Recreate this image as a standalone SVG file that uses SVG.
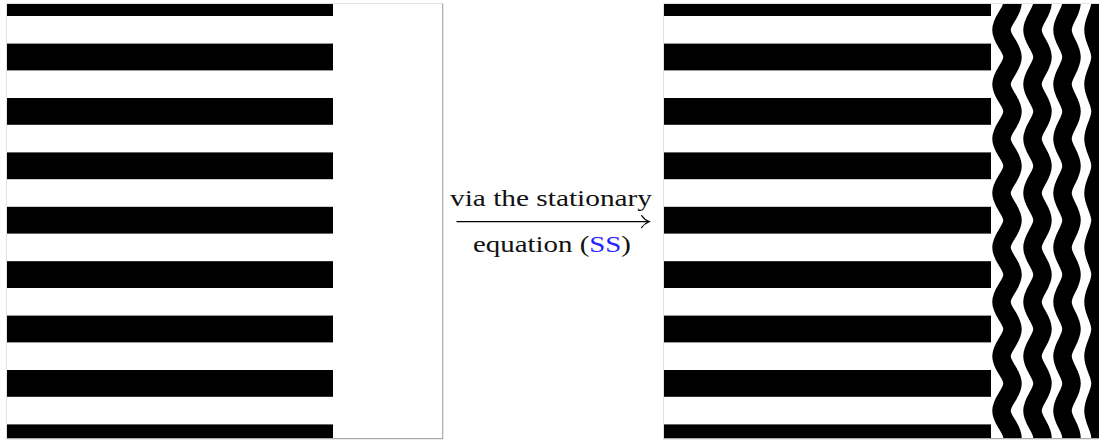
<svg xmlns="http://www.w3.org/2000/svg" width="1099" height="442" viewBox="0 0 1099 442">
<style>
.stripe{fill:#000}
.wave{fill:none;stroke:#000;stroke-width:18.5}
.lbl{font-family:"Liberation Serif","DejaVu Serif",serif;font-size:24px;fill:#111}
.blue{fill:#1f1fff}
.edge-light{stroke:#e2e2e2;stroke-width:1;fill:none}
.edge-dark{stroke:#ababab;stroke-width:1.2;fill:none}
</style>
<defs>
<clipPath id="clipL"><rect x="7" y="4" width="436" height="434"/></clipPath>
<clipPath id="clipR"><rect x="664" y="4" width="436" height="434"/></clipPath>
</defs>
<rect width="1099" height="442" fill="#fff"/>
<g id="left-panel">
<rect x="7" y="4" width="436" height="434" fill="#fff"/>
<g clip-path="url(#clipL)">
<rect class="stripe" x="7" y="-10.8" width="326" height="26.8"/>
<rect class="stripe" x="7" y="43.6" width="326" height="26.8"/>
<rect class="stripe" x="7" y="98" width="326" height="26.8"/>
<rect class="stripe" x="7" y="152.4" width="326" height="26.8"/>
<rect class="stripe" x="7" y="206.8" width="326" height="26.8"/>
<rect class="stripe" x="7" y="261.2" width="326" height="26.8"/>
<rect class="stripe" x="7" y="315.6" width="326" height="26.8"/>
<rect class="stripe" x="7" y="370" width="326" height="26.8"/>
<rect class="stripe" x="7" y="424.4" width="326" height="26.8"/>
</g>
<path class="edge-light" d="M6.5,438.5 V3.5 H442.5"/>
<path class="edge-dark" d="M442.7,3.5 V438.7 H6.5"/>
</g>
<g id="right-panel">
<rect x="664" y="4" width="436" height="434" fill="#fff"/>
<g clip-path="url(#clipR)">
<rect class="stripe" x="664" y="-10.8" width="327" height="26.8"/>
<rect class="stripe" x="664" y="43.6" width="327" height="26.8"/>
<rect class="stripe" x="664" y="98" width="327" height="26.8"/>
<rect class="stripe" x="664" y="152.4" width="327" height="26.8"/>
<rect class="stripe" x="664" y="206.8" width="327" height="26.8"/>
<rect class="stripe" x="664" y="261.2" width="327" height="26.8"/>
<rect class="stripe" x="664" y="315.6" width="327" height="26.8"/>
<rect class="stripe" x="664" y="370" width="327" height="26.8"/>
<rect class="stripe" x="664" y="424.4" width="327" height="26.8"/>
<path class="wave" d="M1001.5,-24.5 c0,9.9 11,17.3 11,27.2 s-11,17.3 -11,27.2 s11,17.3 11,27.2 s-11,17.3 -11,27.2 s11,17.3 11,27.2 s-11,17.3 -11,27.2 s11,17.3 11,27.2 s-11,17.3 -11,27.2 s11,17.3 11,27.2 s-11,17.3 -11,27.2 s11,17.3 11,27.2 s-11,17.3 -11,27.2 s11,17.3 11,27.2 s-11,17.3 -11,27.2 s11,17.3 11,27.2 s-11,17.3 -11,27.2 s11,17.3 11,27.2 s-11,17.3 -11,27.2"/>
<path class="wave" d="M1032.5,-24.5 c0,9.9 10,17.3 10,27.2 s-10,17.3 -10,27.2 s10,17.3 10,27.2 s-10,17.3 -10,27.2 s10,17.3 10,27.2 s-10,17.3 -10,27.2 s10,17.3 10,27.2 s-10,17.3 -10,27.2 s10,17.3 10,27.2 s-10,17.3 -10,27.2 s10,17.3 10,27.2 s-10,17.3 -10,27.2 s10,17.3 10,27.2 s-10,17.3 -10,27.2 s10,17.3 10,27.2 s-10,17.3 -10,27.2 s10,17.3 10,27.2 s-10,17.3 -10,27.2"/>
<path class="wave" d="M1062.5,-24.5 c0,9.9 9,17.3 9,27.2 s-9,17.3 -9,27.2 s9,17.3 9,27.2 s-9,17.3 -9,27.2 s9,17.3 9,27.2 s-9,17.3 -9,27.2 s9,17.3 9,27.2 s-9,17.3 -9,27.2 s9,17.3 9,27.2 s-9,17.3 -9,27.2 s9,17.3 9,27.2 s-9,17.3 -9,27.2 s9,17.3 9,27.2 s-9,17.3 -9,27.2 s9,17.3 9,27.2 s-9,17.3 -9,27.2 s9,17.3 9,27.2 s-9,17.3 -9,27.2"/>
<path class="wave" d="M1093.5,-24.5 c0,9.9 7,17.3 7,27.2 s-7,17.3 -7,27.2 s7,17.3 7,27.2 s-7,17.3 -7,27.2 s7,17.3 7,27.2 s-7,17.3 -7,27.2 s7,17.3 7,27.2 s-7,17.3 -7,27.2 s7,17.3 7,27.2 s-7,17.3 -7,27.2 s7,17.3 7,27.2 s-7,17.3 -7,27.2 s7,17.3 7,27.2 s-7,17.3 -7,27.2 s7,17.3 7,27.2 s-7,17.3 -7,27.2 s7,17.3 7,27.2 s-7,17.3 -7,27.2"/>
</g>
<path class="edge-light" d="M663.5,438.5 V3.5 H1099"/>
<path class="edge-dark" d="M663.5,438.7 H1099"/>
</g>
<g id="connectors">
<line x1="456.5" y1="221.6" x2="648" y2="221.6" stroke="#000" stroke-width="1.3"/>
<path d="M641.6,215.6 C643.6,218.6 646.4,220.6 649.2,221.6 C646.4,222.6 643.6,224.6 641.6,227.6" fill="none" stroke="#000" stroke-width="1.2" stroke-linecap="round"/>
</g>
<g id="labels">
<text class="lbl" x="450" y="206" textLength="202" lengthAdjust="spacingAndGlyphs">via the stationary</text>
<text class="lbl" x="473" y="251.5" textLength="158" lengthAdjust="spacingAndGlyphs">equation (<tspan class="blue">SS</tspan>)</text>
</g>
</svg>
